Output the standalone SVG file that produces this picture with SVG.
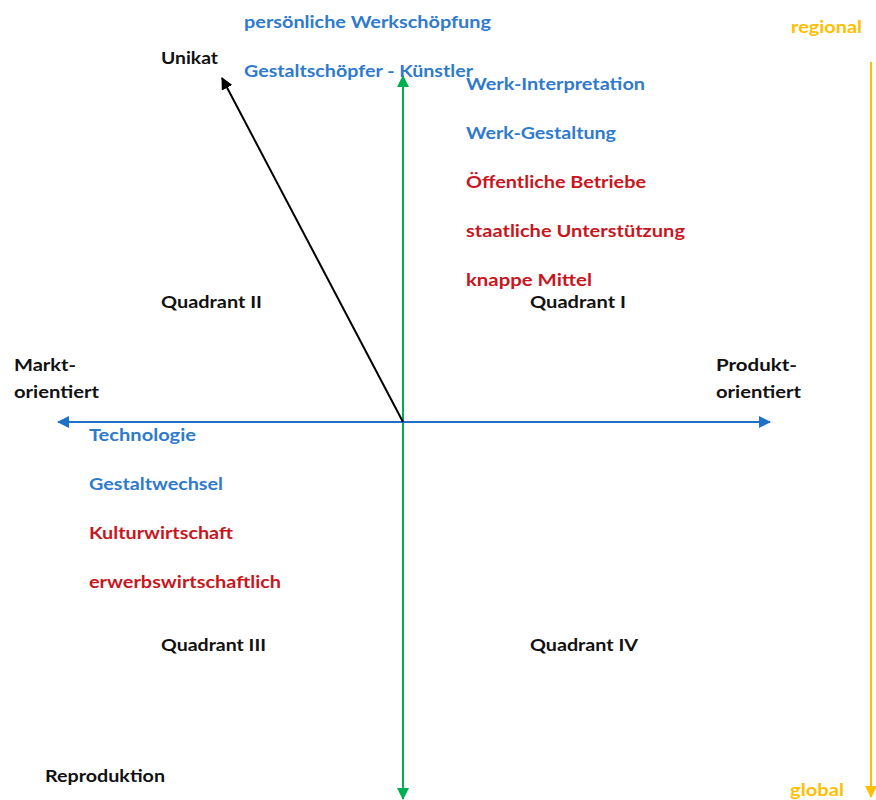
<svg xmlns="http://www.w3.org/2000/svg" width="876" height="800" viewBox="0 0 876 800">
<style>
text{font-family:Lato,"Open Sans","Liberation Sans",sans-serif;font-weight:bold;font-size:17px}
.k{fill:#111}
.b{fill:#2E7ACC}
.r{fill:#C8161E}
.y{fill:#FFC000}
</style>
<defs>
<marker id="ag" viewBox="0 0 12 12" refX="11" refY="6" markerWidth="12" markerHeight="12" markerUnits="userSpaceOnUse" orient="auto-start-reverse"><path d="M0,0L12,6L0,12z" fill="#00B050"/></marker>
<marker id="ab" viewBox="0 0 12 12" refX="11" refY="6" markerWidth="12" markerHeight="12" markerUnits="userSpaceOnUse" orient="auto-start-reverse"><path d="M0,0L12,6L0,12z" fill="#1F70C8"/></marker>
<marker id="ak" viewBox="0 0 12 12" refX="11" refY="6" markerWidth="12" markerHeight="12" markerUnits="userSpaceOnUse" orient="auto"><path d="M0,0L12,6L0,12z" fill="#000"/></marker>
<marker id="ay" viewBox="0 0 12 12" refX="11" refY="6" markerWidth="12" markerHeight="12" markerUnits="userSpaceOnUse" orient="auto"><path d="M0,0L12,6L0,12z" fill="#FFC000"/></marker>
</defs>
<rect width="876" height="800" fill="#fff"/>
<g id="connectors">
<line x1="403" y1="76" x2="403" y2="799" stroke="#00B050" stroke-width="2" marker-start="url(#ag)" marker-end="url(#ag)"/>
<line x1="58" y1="422" x2="770" y2="422" stroke="#1F70C8" stroke-width="2" marker-start="url(#ab)" marker-end="url(#ab)"/>
<line x1="403" y1="422" x2="222" y2="78" stroke="#000" stroke-width="2" marker-end="url(#ak)"/>
<line x1="871" y1="62" x2="871" y2="797" stroke="#FFC000" stroke-width="2" marker-end="url(#ay)"/>
</g>
<g id="labels">
<text class="b" x="244" y="28" textLength="247" lengthAdjust="spacingAndGlyphs">persönliche Werkschöpfung</text>
<text class="k" x="161" y="64" textLength="57" lengthAdjust="spacingAndGlyphs">Unikat</text>
<text class="b" x="244" y="77" textLength="229" lengthAdjust="spacingAndGlyphs">Gestaltschöpfer - Künstler</text>
<text class="b" x="466" y="90" textLength="179" lengthAdjust="spacingAndGlyphs">Werk-Interpretation</text>
<text class="b" x="466" y="139" textLength="150" lengthAdjust="spacingAndGlyphs">Werk-Gestaltung</text>
<text class="r" x="466" y="188" textLength="180" lengthAdjust="spacingAndGlyphs">Öffentliche Betriebe</text>
<text class="r" x="466" y="237" textLength="219" lengthAdjust="spacingAndGlyphs">staatliche Unterstützung</text>
<text class="r" x="466" y="286" textLength="126" lengthAdjust="spacingAndGlyphs">knappe Mittel</text>
<text class="k" x="530" y="308" textLength="96" lengthAdjust="spacingAndGlyphs">Quadrant I</text>
<text class="k" x="161" y="308" textLength="101" lengthAdjust="spacingAndGlyphs">Quadrant II</text>
<text class="k" x="14" y="371" textLength="62" lengthAdjust="spacingAndGlyphs">Markt-</text>
<text class="k" x="14" y="398" textLength="85" lengthAdjust="spacingAndGlyphs">orientiert</text>
<text class="k" x="716" y="371" textLength="81" lengthAdjust="spacingAndGlyphs">Produkt-</text>
<text class="k" x="716" y="398" textLength="85" lengthAdjust="spacingAndGlyphs">orientiert</text>
<text class="b" x="89" y="441" textLength="107" lengthAdjust="spacingAndGlyphs">Technologie</text>
<text class="b" x="89" y="490" textLength="134" lengthAdjust="spacingAndGlyphs">Gestaltwechsel</text>
<text class="r" x="89" y="539" textLength="144" lengthAdjust="spacingAndGlyphs">Kulturwirtschaft</text>
<text class="r" x="89" y="588" textLength="192" lengthAdjust="spacingAndGlyphs">erwerbswirtschaftlich</text>
<text class="k" x="161" y="651" textLength="105" lengthAdjust="spacingAndGlyphs">Quadrant III</text>
<text class="k" x="530" y="651" textLength="108" lengthAdjust="spacingAndGlyphs">Quadrant IV</text>
<text class="k" x="45" y="782" textLength="120" lengthAdjust="spacingAndGlyphs">Reproduktion</text>
<text class="y" x="791" y="33" textLength="71" lengthAdjust="spacingAndGlyphs">regional</text>
<text class="y" x="790" y="796" textLength="54" lengthAdjust="spacingAndGlyphs">global</text>
</g>
</svg>
